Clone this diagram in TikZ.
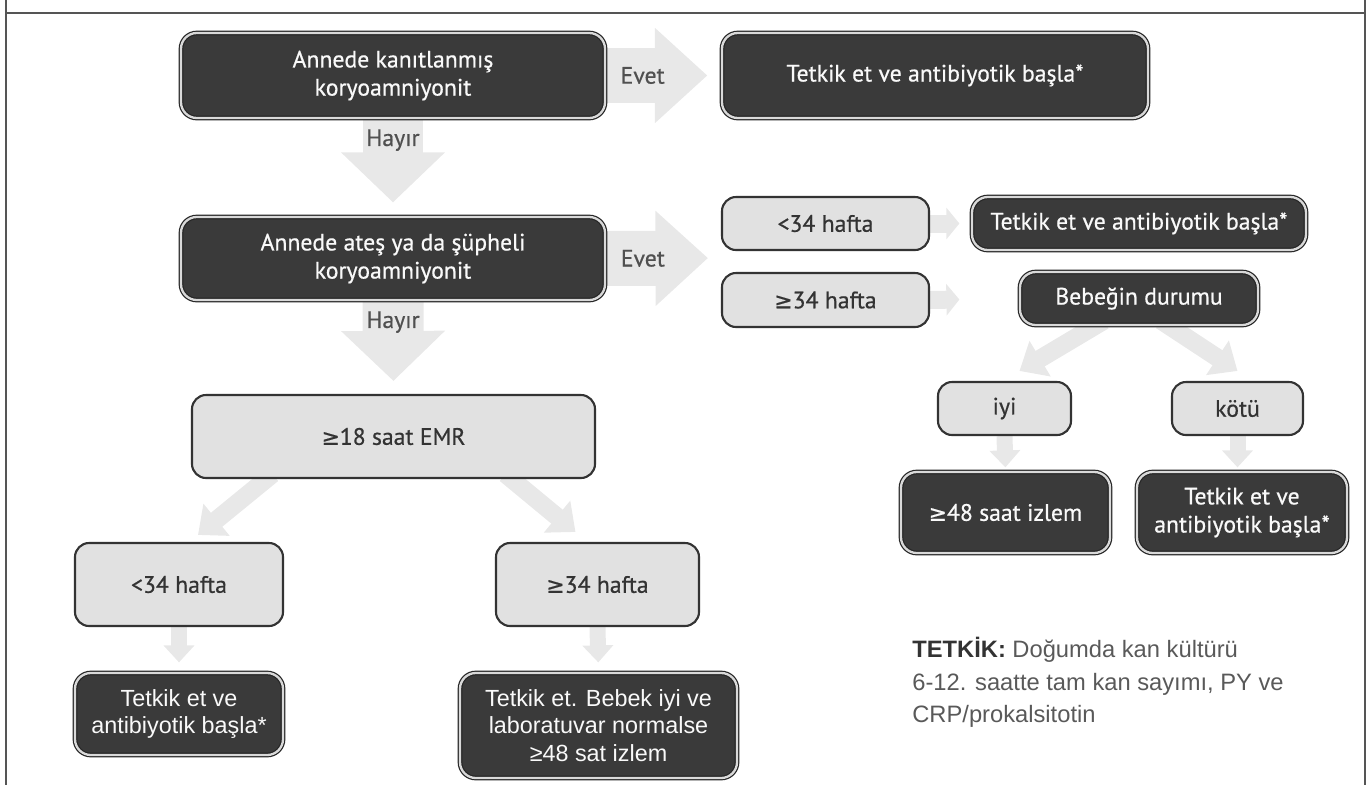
\documentclass[tikz,border=0pt]{standalone}
\usepackage{fontspec}
\setmainfont[FakeBold=0.6]{PT Sans}
\newfontfamily\arialfont{Liberation Sans}
\newfontfamily\symfont[Scale=0.92, FakeBold=0.6]{DejaVu Sans}
\newcommand{\gesym}{{\symfont ≥}}
\usepackage{tikz}
\usetikzlibrary{arrows.meta, calc, backgrounds}
\definecolor{boxdark}{HTML}{3A3A3A}
\definecolor{boxlight}{HTML}{E1E1E1}
\definecolor{arrowgray}{HTML}{E8E8E8}
\definecolor{framegray}{HTML}{555555}
\definecolor{labelgray}{HTML}{505050}
\tikzset{
  wh/.style 2 args = {minimum width=#1*0.02cm, minimum height=#2*0.02cm},
  darkbox/.style  = {rectangle, rounded corners=9pt, draw=black!85,
                     double=gray!30, double distance=1.3pt, line width=0.7pt,
                     fill=boxdark, text=gray!5, align=center, inner sep=0pt,
                     font=\fontsize{13.5}{16}\selectfont},
  lightbox/.style = {rectangle, rounded corners=8pt, draw=black!80,
                     line width=1.2pt, fill=boxlight, text=black!80,
                     align=center, inner sep=0pt,
                     font=\fontsize{13.5}{16}\selectfont},
  bigarr/.style   = {draw=arrowgray, line width=1.1cm,
                     -{Triangle[length=1.05cm, width=1.84cm]}},
  bigarrv/.style  = {draw=arrowgray, line width=1.22cm,
                     -{Triangle[length=1.0cm, width=2.02cm]}},
  smallarr/.style = {draw=arrowgray, line width=0.36cm,
                     -{Triangle[length=0.26cm, width=0.62cm]}},
  downarr/.style  = {draw=arrowgray, line width=0.32cm,
                     -{Triangle[length=0.34cm, width=0.6cm]}},
  diagarr/.style  = {draw=arrowgray, line width=0.36cm,
                     -{Triangle[length=0.48cm, width=0.8cm]}},
}

\begin{document}
\begin{tikzpicture}[x=0.02cm, y=-0.02cm,
  lbl/.style={font=\fontsize{13.5}{16}\selectfont, text=labelgray},
  arial/.style={font=\arialfont\fontsize{13.3}{15.5}\selectfont},
]
  \useasboundingbox (0,0) rectangle (1370,785);
  \draw[framegray, line width=1pt] (6,0) -- (6,785) (1365,0) -- (1365,785)
    (6,13) -- (1365,13);

  % left column
  \node[darkbox, wh={424}{85}] (kanit) at (393,75.5)
    {Annede kanıtlanmış\\koryoamniyonit};
  \node[darkbox, wh={426}{85}] (tetkikA) at (935,75.5)
    {Tetkik et ve antibiyotik başla*};
  \node[darkbox, wh={424}{83}] (ates) at (393,258.5)
    {Annede ateş ya da şüpheli\\koryoamniyonit};
  \node[lightbox, wh={403}{83}] (emr) at (393.5,436.5) {\gesym18 saat EMR};
  \node[lightbox, wh={208}{83}] (erkenL) at (179,584.5) {<34 hafta};
  \node[lightbox, wh={203}{83}] (gecL) at (597.5,584.5) {\gesym34 hafta};
  \node[darkbox, arial, wh={208}{82}] (tetkikL) at (179,714)
    {Tetkik et ve\\antibiyotik başla*};
  \node[darkbox, arial, wh={277}{105}] (izlemL) at (598.5,725.5)
    {Tetkik et. Bebek iyi ve\\laboratuvar normalse\\≥48 sat izlem};

  % right column
  \node[lightbox, wh={207}{53}] (erkenR) at (825.5,223.5) {<34 hafta};
  \node[darkbox, wh={334}{53}] (tetkikR) at (1139,223.5)
    {Tetkik et ve antibiyotik başla*};
  \node[lightbox, wh={207}{54}] (gecR) at (825.5,300) {\gesym34 hafta};
  \node[darkbox, wh={238}{53}] (bebek) at (1139,298.5) {Bebeğin durumu};
  \node[lightbox, wh={133}{53}] (iyi) at (1004.5,408.5) {iyi};
  \node[lightbox, wh={131}{53}] (kotu) at (1237.5,408.5) {kötü};
  \node[darkbox, wh={209}{81}] (izlemR) at (1005.5,512.5) {\gesym48 saat izlem};
  \node[darkbox, wh={210}{81}] (tetkikK) at (1242,512.5)
    {Tetkik et ve\\antibiyotik başla*};

  \node[anchor=north west, align=left, inner sep=0pt, text=black!65,
        font=\arialfont\fontsize{13.5}{18.5}\selectfont] (notlar) at (912,637)
    {{\bfseries\color{black!80}TETKİK:} Doğumda kan kültürü\\
     6-12. saatte tam kan sayımı, PY ve\\CRP/prokalsitotin};

  \coordinate (evetuc) at (722,258);

  \begin{scope}[on background layer]
    \draw[bigarr, shorten >=0.28cm] (kanit.east)
      -- node[lbl, pos=0.32] {Evet} (tetkikA.west);
    \draw[bigarr, shorten >=0.28cm] (ates.east)
      -- node[lbl, pos=0.32] {Evet} (evetuc);
    \draw[bigarrv, shorten >=0.28cm] (kanit.south)
      -- node[lbl, pos=0.22] {Hayır} (ates.north);
    \draw[bigarrv, shorten >=0.26cm] (ates.south)
      -- node[lbl, pos=0.23] {Hayır} (emr.north);

    \draw[diagarr] ($(emr.south)+(-121,-5)$) -- ($(erkenL.north)+(19,-7)$);
    \draw[diagarr] ($(emr.south)+(112,-5)$) -- ($(gecL.north)+(-22,-10)$);
    \draw[downarr, shorten >=0.2cm] (erkenL.south) -- (tetkikL.north);
    \draw[downarr, shorten >=0.2cm] (gecL.south) -- (izlemL.north);

    \draw[smallarr, shorten >=0.24cm] (erkenR.east) -- (tetkikR.west);
    \draw[smallarr, shorten >=1.2cm] (gecR.east) -- (bebek.west);
    \draw[diagarr] ($(bebek.south)+(-35,-5)$) -- ($(iyi.north)+(15,-10)$);
    \draw[diagarr] ($(bebek.south)+(22,-5)$) -- ($(kotu.north)+(0,-10)$);
    \draw[downarr, shorten >=0.08cm] (iyi.south) -- (izlemR.north);
    \draw[downarr, shorten >=0.08cm] (kotu.south) -- (kotu.south |- tetkikK.north);
  \end{scope}
\end{tikzpicture}
\end{document}
